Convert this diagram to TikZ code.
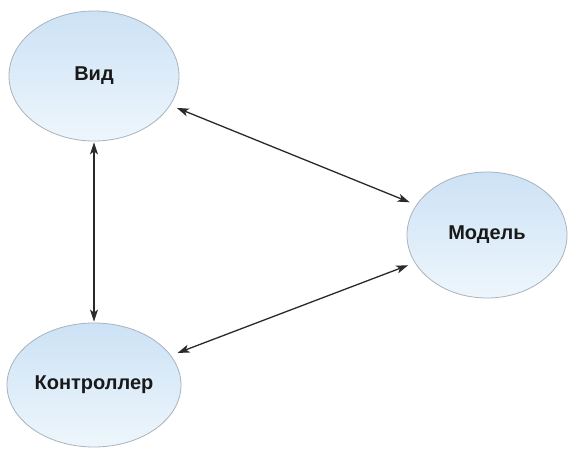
\documentclass[tikz,border=0pt]{standalone}
\usepackage{fontspec}
\setmainfont{Liberation Sans}
\usetikzlibrary{shapes.geometric,arrows.meta}
\definecolor{elltop}{HTML}{CCE2F5}
\definecolor{ellbot}{HTML}{EEF6FC}
\definecolor{ellline}{HTML}{A9B3BD}
\definecolor{arrcol}{HTML}{2A2A2A}
\tikzset{
  mvcnode/.style={ellipse, draw=ellline, line width=0.8pt, top color=elltop, bottom color=ellbot,
    inner sep=0pt, font=\fontsize{20}{23}\selectfont\bfseries, text=black!90},
  link/.style={{Stealth[length=12pt,width=8pt,inset=3pt]}-{Stealth[length=12pt,width=8pt,inset=3pt]}, draw=arrcol, line width=1.3pt}
}
\begin{document}
\begin{tikzpicture}[x=1pt,y=1pt]
\useasboundingbox (0,0) rectangle (570,450);
\fill[white] (0,0) rectangle (570,450);
\node[mvcnode, minimum width=170pt, minimum height=130pt] (vid) at (94,374) {Вид};
\node[mvcnode, minimum width=160pt, minimum height=126pt] (model) at (487,215) {Модель};
\node[mvcnode, minimum width=174pt, minimum height=124pt] (ctrl) at (94,65) {Контроллер};
\draw[link, shorten <=1pt, shorten >=1pt] (vid.south) -- (ctrl.north);
\draw[link, shorten <=7pt, shorten >=7pt] (vid.-21) -- (model.157);
\draw[link, shorten <=7pt, shorten >=7pt] (ctrl.21) -- (model.201);
\end{tikzpicture}
\end{document}
